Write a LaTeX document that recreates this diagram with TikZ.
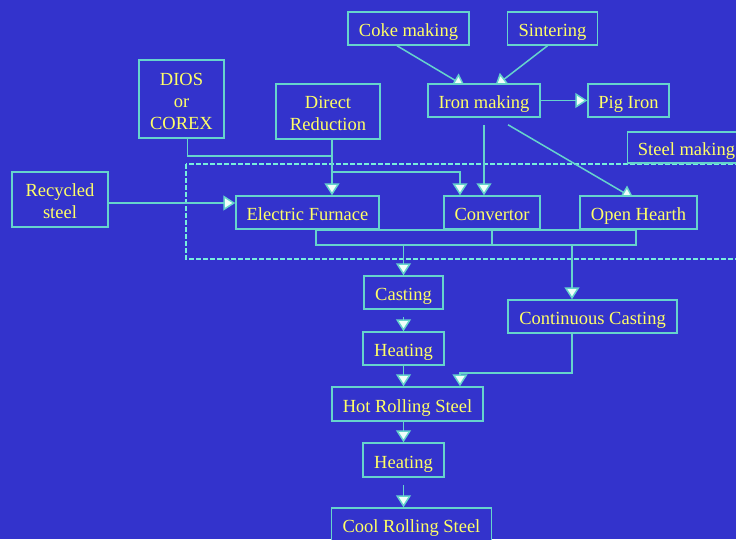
\documentclass[tikz,border=0pt]{standalone}
\usepackage{fontspec}
\setmainfont{Liberation Serif}
\usetikzlibrary{arrows.meta}
\definecolor{bgblue}{HTML}{3333CC}
\definecolor{linecol}{HTML}{66D4CC}
\definecolor{dashcol}{HTML}{77EEDD}
\definecolor{tipfill}{HTML}{F0FFFA}
\definecolor{txtcol}{HTML}{FFFF66}
\pgfdeclarelayer{back}
\pgfsetlayers{back,main}
\newcommand{\firstline}{\rule{0pt}{16.5pt}}
\tikzset{
  box/.style={draw=linecol, line width=1.5pt, fill=bgblue, text=txtcol, inner sep=0pt,
    align=center, font=\fontsize{18.5}{22}\selectfont},
  onebox/.style={box, text height=16pt, text depth=0pt},
  link/.style={draw=linecol, line width=1.5pt},
  arr/.style={link, -{Triangle[width=15pt,length=12pt,fill=tipfill]}}
}
\begin{document}
\begin{tikzpicture}[x=1pt,y=-1pt]
  \useasboundingbox (0,0) rectangle (736,539);
  % Rohstoffe
  \node[onebox, minimum width=121pt, minimum height=33pt] (coke) at (408.5,28.5) {Coke making};
  \node[onebox, minimum width=90pt, minimum height=33pt] (sinter) at (552.5,28.5) {Sintering};
  \node[box, minimum width=85pt, minimum height=78pt] (dios) at (181.5,99) {\firstline DIOS\\or\\COREX};
  \node[box, minimum width=104pt, minimum height=55pt] (dr) at (328,111.5) {\firstline Direct\\Reduction};
  \node[onebox, minimum width=112pt, minimum height=33pt] (iron) at (484,100.5) {Iron making};
  \node[onebox, minimum width=81pt, minimum height=33pt] (pig) at (628.5,100.5) {Pig Iron};
  \node[box, minimum width=96pt, minimum height=55pt] (rec) at (60,199.5) {\firstline Recycled\\steel};
  % Stahlwerk
  \node[onebox, minimum width=118pt, minimum height=31pt] (stm) at (686.5,147.5) {Steel making};
  \node[onebox, minimum width=143pt, minimum height=33pt] (ef) at (307.5,212.5) {Electric Furnace};
  \node[onebox, minimum width=96pt, minimum height=33pt] (conv) at (492,212.5) {Convertor};
  \node[onebox, minimum width=117pt, minimum height=33pt] (open) at (638.5,212.5) {Open Hearth};
  % Weiterverarbeitung
  \node[onebox, minimum width=79pt, minimum height=33pt] (cast) at (403.5,292.5) {Casting};
  \node[onebox, minimum width=169pt, minimum height=33pt] (cc) at (592.5,316.5) {Continuous Casting};
  \node[onebox, minimum width=81pt, minimum height=33pt] (heat1) at (403.5,348.5) {Heating};
  \node[onebox, minimum width=151pt, minimum height=34pt] (hot) at (407.5,404) {Hot Rolling Steel};
  \node[onebox, minimum width=81pt, minimum height=34pt] (heat2) at (403.5,460) {Heating};
  \node[onebox, minimum width=160pt, minimum height=33pt] (cool) at (411.5,524.5) {Cool Rolling Steel};
  % Hilfspunkte
  \coordinate (dj) at (332,156);
  \coordinate (dk) at (332,172);
  \coordinate (ml) at ([xshift=8.5pt]ef.south);
  \coordinate (mr) at ([xshift=-2.5pt]open.south);
  \coordinate (mb) at (0,244);
  \coordinate (ccin) at ([xshift=-20.5pt]cc.north);
  \coordinate (ccout) at ([xshift=-20.5pt]cc.south);
  \begin{pgfonlayer}{back}
    % Hintergrund
    \fill[bgblue] (0,0) rectangle (736,539);
    % Rahmen Stahlwerk
    \draw[dashcol, line width=2.2pt, dash pattern=on 5pt off 2pt] (186,164) rectangle (760,259);
    % Eisen
    \draw[arr] ([xshift=-11.5pt]coke.south) -- ([xshift=-19pt,yshift=-3pt]iron.north);
    \draw[arr] ([xshift=-5pt]sinter.south) -- ([xshift=11pt,yshift=-3pt]iron.north);
    \draw[arr] (iron.east) -- (pig.west);
    \draw[arr] ([yshift=-7pt]iron.south) -- (iron.south |- conv.north);
    \draw[arr] ([xshift=24pt,yshift=-7pt]iron.south) -- ([xshift=-5pt,yshift=-3pt]open.north);
    % DIOS, Direktreduktion, Schrott
    \draw[link] ([xshift=6pt]dios.south) |- (dj);
    \draw[arr] ([xshift=4pt]dr.south) -- ([xshift=4pt]dr.south |- ef.north);
    \draw[arr] (dk) -| ([xshift=-32pt]conv.north);
    \draw[arr] ([yshift=-3.5pt]rec.east) -- ([yshift=9.5pt]ef.west);
    % Sammelschiene
    \draw[link] (ml) -- ++(0,15) -| (mr) -- (ml);
    \draw[link] (conv.south) -- ++(0,15);
    \draw[arr] (cast.north |- mb) -- (cast.north);
    \draw[arr] (ccin |- mb) -- (ccin);
    % Walzen
    \draw[arr] ([yshift=-7pt]cast.south) -- (heat1.north);
    \draw[arr] (heat1.south) -- (heat1.south |- hot.north);
    \draw[arr] (ccout) -- ++(0,39) -| ([xshift=52.5pt]hot.north);
    \draw[arr] (heat2.north |- hot.south) -- (heat2.north);
    \draw[arr] ([yshift=-7pt]heat2.south) -- (heat2.south |- cool.north);
  \end{pgfonlayer}
\end{tikzpicture}
\end{document}
